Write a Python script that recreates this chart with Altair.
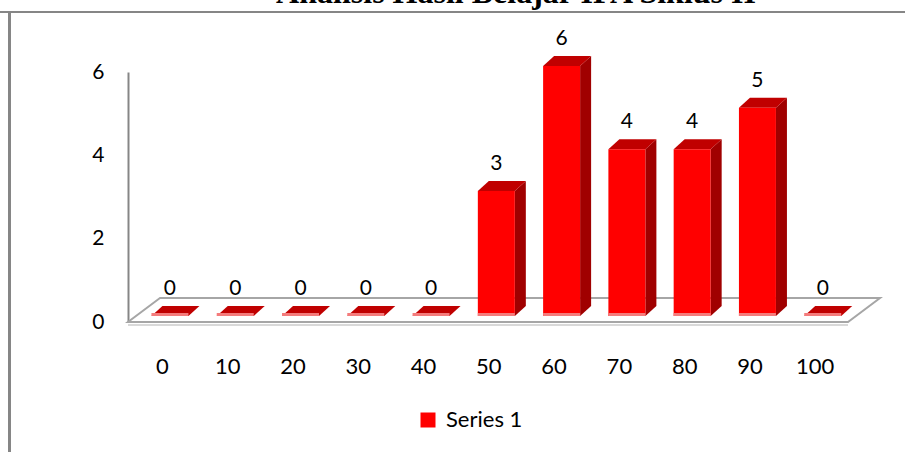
import altair as alt
import pandas as pd

# ---- data ----
categories = [0, 10, 20, 30, 40, 50, 60, 70, 80, 90, 100]
values = [0, 0, 0, 0, 0, 3, 6, 4, 4, 5, 0]
series_name = "Series 1"
y_ticks = [0, 2, 4, 6]
title_text = "Analisis Hasil Belajar IPA Siklus II"

# ---- layout / style constants ----
W, H = 752, 250
X_DOM = [-5.2, 110.0]
Y_DOM = [0, 6]
PX_X = W / (X_DOM[1] - X_DOM[0])   # px per x unit
PX_Y = H / (Y_DOM[1] - Y_DOM[0])   # px per y unit
HALF_W = 18.5 / PX_X               # half front width
DX = 11 / PX_X                     # 3D depth (x)
DY = 10 / PX_Y                     # 3D depth (y)
BAR_DX, BAR_DY = 8, -6             # bar pixel offsets (bars sit inside the floor)
FONT = "Lato"

xs = alt.Scale(domain=X_DOM, nice=False, zero=False)
ys = alt.Scale(domain=Y_DOM, nice=False, zero=False)

front = pd.DataFrame({
    "cat": categories,
    "v": values,
    "x1": [c - HALF_W for c in categories],
    "x2": [c + HALF_W for c in categories],
    "base": [0.0] * len(categories),
    "edge": [0.075] * len(categories),
    "series": [series_name] * len(categories),
})

side_rows, top_rows = [], []
for c, v in zip(categories, values):
    r = c + HALF_W
    side_rows.append({"cat": c, "x": r, "lo": 0.0, "hi": v})
    side_rows.append({"cat": c, "x": r + DX, "lo": DY, "hi": v + DY})
    top_rows.append({"cat": c, "y": v, "xa": c - HALF_W, "xb": c + HALF_W})
    top_rows.append({"cat": c, "y": v + DY, "xa": c - HALF_W + DX, "xb": c + HALF_W + DX})
side = pd.DataFrame(side_rows)
top = pd.DataFrame(top_rows)

# floor parallelogram (front edge on the value axis zero line)
fl_depth = 24 / PX_Y
floor = pd.DataFrame({
    "y": [0.0, fl_depth],
    "xa": [X_DOM[0], X_DOM[0] + 32 / PX_X],
    "xb": [X_DOM[0] + 720 / PX_X, X_DOM[1]],
})

# axes carried by an invisible layer at the category positions
axis_layer = alt.Chart(front).mark_point(opacity=0).encode(
    x=alt.X("cat:Q", scale=xs, axis=alt.Axis(
        values=categories, format="d", title=None, grid=False, domain=False,
        ticks=False, tickSize=0, labelFont=FONT, labelFontSize=22,
        labelColor="black", labelPadding=44, labelBaseline="middle",
        labelOverlap=False,
    )),
    y=alt.Y("base:Q", scale=ys, axis=alt.Axis(
        values=y_ticks, format="d", title=None, grid=False, domain=True,
        domainColor="#868686", domainWidth=2, ticks=False, tickSize=0,
        labelFont=FONT, labelFontSize=21, labelColor="black", labelPadding=24,
    )),
)

floor_layer = alt.Chart(floor).mark_area(
    orient="horizontal", fill="white", stroke="#A6A6A6", strokeWidth=2
).encode(
    y=alt.Y("y:Q", scale=ys),
    x=alt.X("xa:Q", scale=xs),
    x2="xb:Q",
)

floor_under = alt.Chart(floor.iloc[[0]]).mark_rule(
    color="#D9D9D9", strokeWidth=2, yOffset=3
).encode(
    y=alt.Y("y:Q", scale=ys),
    x=alt.X("xa:Q", scale=xs),
    x2="xb:Q",
)

side_layer = alt.Chart(side).mark_area(
    orient="vertical", color="#A00000", xOffset=BAR_DX, yOffset=BAR_DY, y2Offset=BAR_DY
).encode(
    x=alt.X("x:Q", scale=xs),
    y=alt.Y("lo:Q", scale=ys),
    y2="hi:Q",
    detail="cat:N",
)

top_layer = alt.Chart(top).mark_area(
    orient="horizontal", color="#C00000", xOffset=BAR_DX, x2Offset=BAR_DX, yOffset=BAR_DY
).encode(
    y=alt.Y("y:Q", scale=ys),
    x=alt.X("xa:Q", scale=xs),
    x2="xb:Q",
    detail="cat:N",
)

front_layer = alt.Chart(front).mark_rect(
    xOffset=BAR_DX, x2Offset=BAR_DX, yOffset=BAR_DY, y2Offset=BAR_DY
).encode(
    x=alt.X("x1:Q", scale=xs),
    x2="x2:Q",
    y=alt.Y("base:Q", scale=ys),
    y2="v:Q",
    color=alt.Color(
        "series:N",
        scale=alt.Scale(range=["#FF0000"]),
        legend=alt.Legend(
            orient="none", legendX=289, legendY=337, title=None,
            symbolType="square", symbolSize=225, symbolStrokeWidth=0,
            labelFont=FONT, labelFontSize=22, labelColor="black",
            labelOffset=7, padding=0,
        ),
    ),
)

edge_layer = alt.Chart(front).mark_rect(
    color="#F47C7C", xOffset=BAR_DX, x2Offset=BAR_DX, yOffset=BAR_DY, y2Offset=BAR_DY
).encode(
    x=alt.X("x1:Q", scale=xs),
    x2="x2:Q",
    y=alt.Y("base:Q", scale=ys),
    y2="edge:Q",
)

labels_layer = alt.Chart(front).mark_text(
    font=FONT, fontSize=21, color="black", baseline="middle",
    xOffset=BAR_DX, yOffset=BAR_DY - 27,
).encode(
    x=alt.X("cat:Q", scale=xs),
    y=alt.Y("v:Q", scale=ys),
    text=alt.Text("v:Q", format="d"),
)

frame_top = alt.Chart(front).mark_rule(color="#868686", strokeWidth=2).encode(
    x=alt.value(-128), x2=alt.value(777), y=alt.value(-60)
)
frame_left = alt.Chart(front).mark_rule(color="#868686", strokeWidth=3).encode(
    x=alt.value(-118.5), y=alt.value(-61), y2=alt.value(380)
)

chart = alt.layer(
    axis_layer, floor_under, floor_layer, side_layer, top_layer,
    front_layer, edge_layer, labels_layer, frame_top, frame_left,
).properties(
    width=W, height=H,
    background="white",
    padding={"left": 128, "top": 72, "right": 25, "bottom": 130},
    autosize=alt.AutoSizeParams(type="none"),
    title=alt.TitleParams(
        text=title_text, font="Liberation Serif", fontSize=32,
        fontWeight="bold", color="black", anchor="middle", offset=0, dx=12,
    ),
).configure_view(strokeWidth=0, stroke="transparent")

chart.save("out.html", embed_options={"renderer": "svg", "actions": False})
